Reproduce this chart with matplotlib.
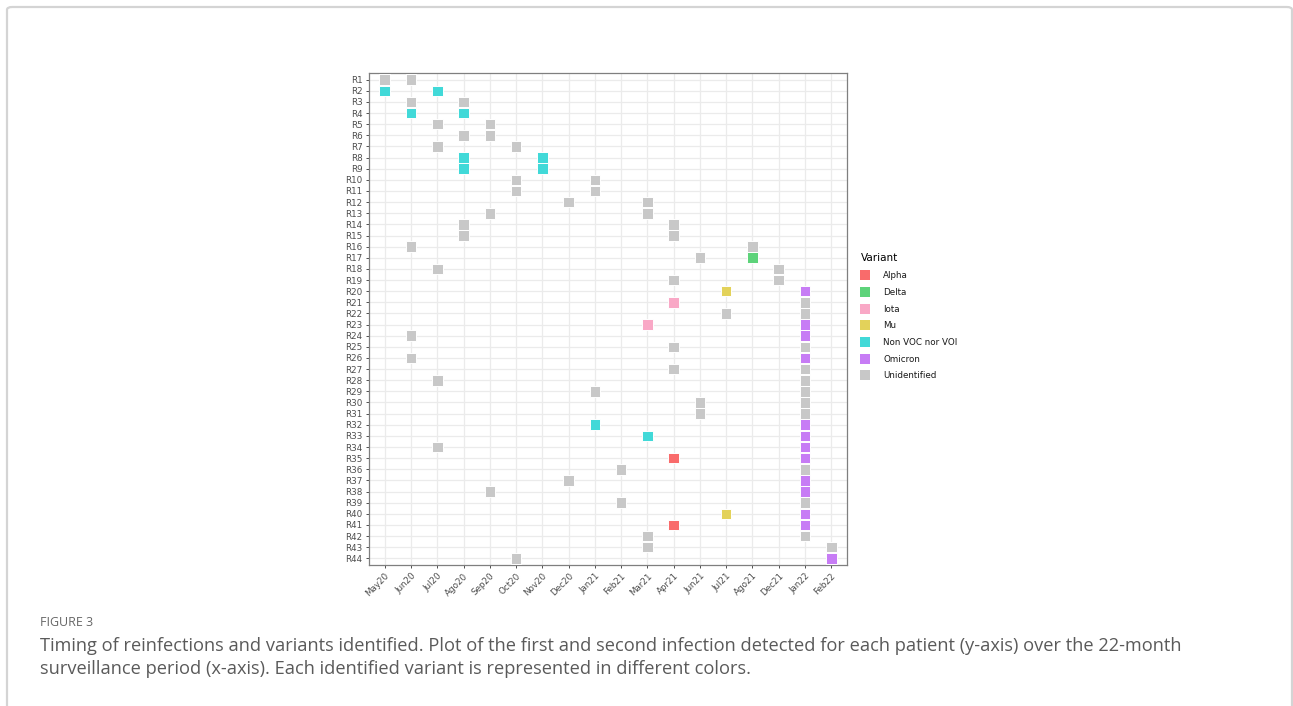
import matplotlib
matplotlib.use("Agg")
import matplotlib.pyplot as plt
from matplotlib.patches import FancyBboxPatch
from matplotlib.lines import Line2D

# ---- data ----
months = ["May20", "Jun20", "Jul20", "Ago20", "Sep20", "Oct20", "Nov20", "Dec20",
          "Jan21", "Feb21", "Mar21", "Apr21", "Jun21", "Jul21", "Ago21", "Dec21",
          "Jan22", "Feb22"]
patients = ["R%d" % i for i in range(1, 45)]

first_month = ["May20", "May20", "Jun20", "Jun20", "Jul20", "Ago20", "Jul20", "Ago20",
               "Ago20", "Oct20", "Oct20", "Dec20", "Sep20", "Ago20", "Ago20", "Jun20",
               "Jun21", "Jul20", "Apr21", "Jul21", "Apr21", "Jul21", "Mar21", "Jun20",
               "Apr21", "Jun20", "Apr21", "Jul20", "Jan21", "Jun21", "Jun21", "Jan21",
               "Mar21", "Jul20", "Apr21", "Feb21", "Dec20", "Sep20", "Feb21", "Jul21",
               "Apr21", "Mar21", "Mar21", "Oct20"]
first_variant = ["Unidentified", "Non VOC nor VOI", "Unidentified", "Non VOC nor VOI",
                 "Unidentified", "Unidentified", "Unidentified", "Non VOC nor VOI",
                 "Non VOC nor VOI", "Unidentified", "Unidentified", "Unidentified",
                 "Unidentified", "Unidentified", "Unidentified", "Unidentified",
                 "Unidentified", "Unidentified", "Unidentified", "Mu",
                 "Iota", "Unidentified", "Iota", "Unidentified",
                 "Unidentified", "Unidentified", "Unidentified", "Unidentified",
                 "Unidentified", "Unidentified", "Unidentified", "Non VOC nor VOI",
                 "Non VOC nor VOI", "Unidentified", "Alpha", "Unidentified",
                 "Unidentified", "Unidentified", "Unidentified", "Mu",
                 "Alpha", "Unidentified", "Unidentified", "Unidentified"]
second_month = ["Jun20", "Jul20", "Ago20", "Ago20", "Sep20", "Sep20", "Oct20", "Nov20",
                "Nov20", "Jan21", "Jan21", "Mar21", "Mar21", "Apr21", "Apr21", "Ago21",
                "Ago21", "Dec21", "Dec21", "Jan22", "Jan22", "Jan22", "Jan22", "Jan22",
                "Jan22", "Jan22", "Jan22", "Jan22", "Jan22", "Jan22", "Jan22", "Jan22",
                "Jan22", "Jan22", "Jan22", "Jan22", "Jan22", "Jan22", "Jan22", "Jan22",
                "Jan22", "Jan22", "Feb22", "Feb22"]
second_variant = ["Unidentified", "Non VOC nor VOI", "Unidentified", "Non VOC nor VOI",
                  "Unidentified", "Unidentified", "Unidentified", "Non VOC nor VOI",
                  "Non VOC nor VOI", "Unidentified", "Unidentified", "Unidentified",
                  "Unidentified", "Unidentified", "Unidentified", "Unidentified",
                  "Delta", "Unidentified", "Unidentified", "Omicron",
                  "Unidentified", "Unidentified", "Omicron", "Omicron",
                  "Unidentified", "Omicron", "Unidentified", "Unidentified",
                  "Unidentified", "Unidentified", "Unidentified", "Omicron",
                  "Omicron", "Omicron", "Omicron", "Unidentified",
                  "Omicron", "Omicron", "Unidentified", "Omicron",
                  "Omicron", "Unidentified", "Unidentified", "Omicron"]

variants = ["Alpha", "Delta", "Iota", "Mu", "Non VOC nor VOI", "Omicron", "Unidentified"]
variant_colors = ["#F96B6B", "#5DD37A", "#F9A8C6", "#E3D25A", "#41D9D8", "#C77CF5", "#C8C8C8"]

caption_head = "FIGURE 3"
caption_lines = ["Timing of reinfections and variants identified. Plot of the first and second infection detected for each patient (y-axis) over the 22-month",
                 "surveillance period (x-axis). Each identified variant is represented in different colors."]

# ---- figure ----
W, H = 1293, 706
fig = plt.figure(figsize=(W / 100, H / 100), dpi=100)
fig.patch.set_facecolor("white")

# outer frame
frame = FancyBboxPatch((7 / W, -0.05), (1292 - 7) / W, (H - 7) / H + 0.05,
                       boxstyle="round,pad=0,rounding_size=0.004",
                       transform=fig.transFigure, facecolor="none",
                       edgecolor="#d4d4d4", linewidth=1.6)
fig.patches.append(frame)

ax = fig.add_axes([369 / W, 1 - 565 / H, (847 - 369) / W, (565 - 73) / H])
ax.set_facecolor("white")

cmap = dict(zip(variants, variant_colors))
mx = {m: i for i, m in enumerate(months)}
py = {p: i for i, p in enumerate(patients)}

xs, ys, cs = [], [], []
for p, m1, v1, m2, v2 in zip(patients, first_month, first_variant, second_month, second_variant):
    xs += [mx[m1], mx[m2]]
    ys += [py[p], py[p]]
    cs += [cmap[v1], cmap[v2]]
ax.scatter(xs, ys, c=cs, marker="s", s=58, linewidths=0.7, edgecolors="white", zorder=3)

ax.set_xticks(range(len(months)))
ax.set_xticklabels(months, rotation=45, ha="right", rotation_mode="anchor",
                   fontsize=6.3, color="#4d4d4d")
ax.set_yticks(range(len(patients)))
ax.set_yticklabels(patients, fontsize=6.3, color="#4d4d4d")
ax.set_xlim(-0.6, len(months) - 1 + 0.6)
ax.set_ylim(len(patients) - 1 + 0.6, -0.6)
ax.grid(True, color="#ebebeb", linewidth=0.9, zorder=0)
ax.set_axisbelow(True)
ax.tick_params(axis="both", length=2.5, width=0.6, color="#333333", pad=2)
for sp in ax.spines.values():
    sp.set_color("#7f7f7f")
    sp.set_linewidth(0.9)

# legend
handles = [Line2D([0], [0], marker="s", linestyle="none", markersize=7.2,
                  markerfacecolor=c, markeredgewidth=0) for c in variant_colors]
leg = fig.legend(handles, variants, loc="upper left",
                 bbox_to_anchor=(857 / W, 1 - 250 / H), frameon=False,
                 title="Variant", fontsize=6.3, title_fontsize=7.5,
                 handlelength=1.0, handletextpad=1.6, labelspacing=0.88,
                 borderaxespad=0)
leg._legend_box.align = "left"
for t in leg.get_texts():
    t.set_color("#1a1a1a")

# caption
fig.text(40 / W, 1 - 623 / H, caption_head, fontsize=9, color="#666666",
         va="center", ha="left", family="Open Sans")
cap_texts = []
for i, line in enumerate(caption_lines):
    t = fig.text(40 / W, 1 - (646 + 23 * i) / H, line, fontsize=11.5, color="#5a5a5a",
                 va="center", ha="left", family="Open Sans")
    cap_texts.append(t)

# scale caption font to match target width of first line
fig.canvas.draw()
r = fig.canvas.get_renderer()
wpx = cap_texts[0].get_window_extent(r).width
target = 1188 - 40
scale = target / wpx
for t in cap_texts:
    t.set_fontsize(11.5 * scale)

fig.savefig("out.png", dpi=100, facecolor="white")
